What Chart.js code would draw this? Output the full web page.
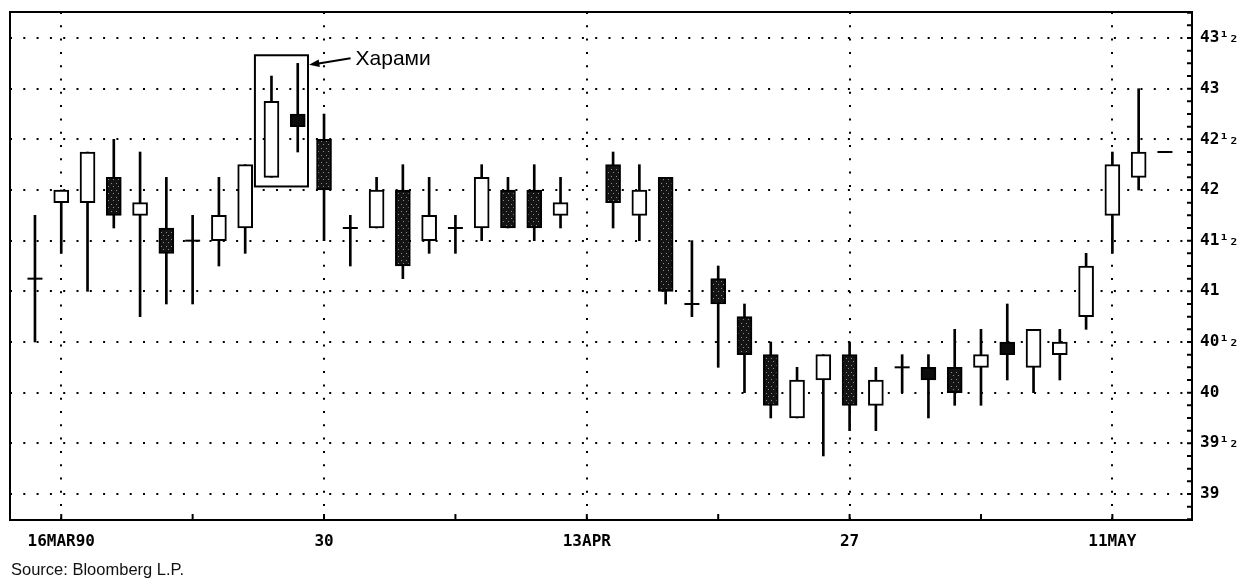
<!DOCTYPE html>
<html>
<head>
<meta charset="utf-8">
<script src="https://cdn.jsdelivr.net/npm/chart.js@4.4.1/dist/chart.umd.min.js"></script>
<style>
  html, body { margin: 0; padding: 0; background: #fff; }
  #wrap { position: relative; width: 1242px; height: 578px; }
  #source { position: absolute; left: 11px; top: 560px; font: 16.5px 'Liberation Sans', Arial, sans-serif; color: #111; }
</style>
</head>
<body>
<div id="wrap">
  <canvas id="chart" width="1242" height="578"></canvas>
  <div id="source">Source: Bloomberg L.P.</div>
</div>
<script>
// trading days 15 Mar - 15 May 1990 (13 Apr = Good Friday, no session)
const days = [
    '15MAR', '16MAR', '19MAR', '20MAR', '21MAR', '22MAR', '23MAR', '26MAR', '27MAR', '28MAR', '29MAR', '30MAR',
    '02APR', '03APR', '04APR', '05APR', '06APR', '09APR', '10APR', '11APR', '12APR', '13APR',
    '16APR', '17APR', '18APR', '19APR', '20APR', '23APR', '24APR', '25APR', '26APR', '27APR',
    '30APR', '01MAY', '02MAY', '03MAY', '04MAY', '07MAY', '08MAY', '09MAY', '10MAY', '11MAY', '14MAY', '15MAY'
];
const opens = [
    41.125, 41.875, 41.875, 42.125, 41.75, 41.625, 41.5, 41.5, 41.625, 42.125, 42.75, 42.5,
    41.625, 41.625, 42, 41.5, 41.625, 41.625, 42, 42, 41.75, null,
    42.25, 41.75, 42.125, 40.875, 41.125, 40.75, 40.375, 39.75, 40.125, 40.375,
    39.875, 40.25, 40.25, 40.25, 40.25, 40.5, 40.25, 40.375, 40.75, 41.75, 42.125, 42.375
];
const highs = [
    41.75, 42, 42.375, 42.5, 42.375, 42.125, 41.75, 42.125, 42.25, 43.125, 43.25, 42.75,
    41.75, 42.125, 42.25, 42.125, 41.75, 42.25, 42.125, 42.25, 42.125, null,
    42.375, 42.25, 42.125, 41.5, 41.25, 40.875, 40.5, 40.25, 40.375, 40.5,
    40.25, 40.375, 40.375, 40.625, 40.625, 40.875, 40.625, 40.625, 41.375, 42.375, 43, 42.375
];
const lows = [
    40.5, 41.375, 41, 41.625, 40.75, 40.875, 40.875, 41.25, 41.375, 42.125, 42.375, 41.5,
    41.25, 41.625, 41.125, 41.375, 41.375, 41.5, 41.625, 41.5, 41.625, null,
    41.625, 41.5, 40.875, 40.75, 40.25, 40, 39.75, 39.75, 39.375, 39.625,
    39.625, 40, 39.75, 39.875, 39.875, 40.125, 40, 40.125, 40.625, 41.375, 42, 42.375
];
const closes = [
    41.125, 42, 42.375, 41.75, 41.875, 41.375, 41.5, 41.75, 42.25, 42.875, 42.625, 42,
    41.625, 42, 41.25, 41.75, 41.625, 42.125, 41.625, 41.625, 41.875, null,
    41.875, 42, 41, 40.875, 40.875, 40.375, 39.875, 40.125, 40.375, 39.875,
    40.125, 40.25, 40.125, 40, 40.375, 40.375, 40.625, 40.5, 41.25, 42.25, 42.375, 42.375
];

const xTickIdx = [1, 11, 21, 31, 41];
const xTickText = ['16MAR90', '30', '13APR', '27', '11MAY'];
const weekTicks = [1, 6, 11, 16, 21, 26, 31, 36, 41];
const yTicks = [39, 39.5, 40, 40.5, 41, 41.5, 42, 42.5, 43, 43.5];
const yTickText = ['39', '39¹₂', '40', '40¹₂', '41', '41¹₂', '42', '42¹₂', '43', '43¹₂'];

const haramiText = 'Харами';
const haramiBox = { x0: 8.37, x1: 10.39, y0: 42.035, y1: 43.33 };
const haramiLabelAt = { x: 12.2, y: 43.29 };
const haramiArrowTip = { x: 10.43, y: 43.236 };

// build candle pieces
const bodies = [], wicks = [], crosses = [];
days.forEach((d, i) => {
    if (opens[i] === null) return;
    wicks.push({ x: i, y: [lows[i], highs[i]] });
    if (opens[i] === closes[i]) {
        crosses.push({ x: i, y: opens[i] });
    } else {
        bodies.push({
            x: i,
            y: [Math.min(opens[i], closes[i]), Math.max(opens[i], closes[i])],
            up: closes[i] > opens[i]
        });
    }
});

const canvas = document.getElementById('chart');
const c2d = canvas.getContext('2d');

function stipple() {
    const c = document.createElement('canvas');
    c.width = 5; c.height = 7;
    const g = c.getContext('2d');
    g.fillStyle = '#141414'; g.fillRect(0, 0, 5, 7);
    g.fillStyle = '#8c8c8c'; g.fillRect(1, 1, 1, 1); g.fillRect(3, 4, 1, 1);
    return c2d.createPattern(c, 'repeat');
}
const darkFill = stipple();

const framePlugin = {
    id: 'frame',
    afterDraw(chart) {
        const { ctx, chartArea: a, scales: { x, y } } = chart;
        ctx.save();
        ctx.strokeStyle = '#000';
        ctx.lineWidth = 2;
        ctx.strokeRect(a.left, a.top, a.right - a.left, a.bottom - a.top);
        ctx.beginPath();
        for (let v = 38.75; v <= 43.75; v += 0.125) {
            const py = y.getPixelForValue(v);
            ctx.moveTo(a.right - 5, py); ctx.lineTo(a.right, py);
        }
        weekTicks.forEach(i => {
            const px = x.getPixelForValue(i);
            ctx.moveTo(px, a.bottom - 6); ctx.lineTo(px, a.bottom);
        });
        ctx.stroke();
        ctx.restore();
    }
};

const haramiPlugin = {
    id: 'harami',
    afterDatasetsDraw(chart) {
        const { ctx, scales: { x, y } } = chart;
        const l = x.getPixelForValue(haramiBox.x0), r = x.getPixelForValue(haramiBox.x1);
        const t = y.getPixelForValue(haramiBox.y1), b = y.getPixelForValue(haramiBox.y0);
        ctx.save();
        ctx.strokeStyle = '#000';
        ctx.fillStyle = '#000';
        ctx.lineWidth = 2;
        ctx.strokeRect(l, t, r - l, b - t);

        const tx = x.getPixelForValue(haramiLabelAt.x), ty = y.getPixelForValue(haramiLabelAt.y);
        const ax = x.getPixelForValue(haramiArrowTip.x), ay = y.getPixelForValue(haramiArrowTip.y);
        ctx.beginPath();
        ctx.moveTo(tx - 5, ty - 1);
        ctx.lineTo(ax + 8, ay - 1);
        ctx.stroke();
        const ang = Math.atan2(ay - (ty - 1), ax - (tx - 5));
        ctx.beginPath();
        ctx.moveTo(ax, ay);
        ctx.lineTo(ax - 11 * Math.cos(ang - 0.35), ay - 11 * Math.sin(ang - 0.35));
        ctx.lineTo(ax - 11 * Math.cos(ang + 0.35), ay - 11 * Math.sin(ang + 0.35));
        ctx.closePath();
        ctx.fill();

        ctx.font = '21px "Liberation Sans", Arial, sans-serif';
        ctx.textBaseline = 'middle';
        ctx.textAlign = 'left';
        ctx.fillText(haramiText, tx, ty);
        ctx.restore();
    }
};

const tickFont = { family: '"DejaVu Sans Mono", monospace', size: 16, weight: 'bold' };

new Chart(c2d, {
    type: 'bar',
    data: {
        datasets: [
            {
                label: 'body',
                data: bodies,
                grouped: false,
                barThickness: 15,
                borderWidth: 2,
                borderSkipped: false,
                borderColor: '#000',
                backgroundColor: ctx => {
                    const p = ctx.raw;
                    if (!p) return '#fff';
                    if (p.up) return '#fff';
                    return (p.y[1] - p.y[0]) <= 0.125 ? '#0c0c0c' : darkFill;
                }
            },
            {
                type: 'line',
                label: 'cross',
                data: crosses,
                showLine: false,
                pointStyle: 'line',
                pointRadius: 7.5,
                pointBorderWidth: 2,
                pointBorderColor: '#000',
                borderColor: '#000'
            },
            {
                label: 'wick',
                data: wicks,
                grouped: false,
                barThickness: 2,
                borderWidth: 0,
                backgroundColor: '#000'
            }
        ]
    },
    options: {
        responsive: false,
        animation: false,
        layout: { padding: { left: 10, top: 12, right: 0, bottom: 0 } },
        plugins: { legend: { display: false }, tooltip: { enabled: false } },
        scales: {
            x: {
                type: 'linear',
                min: -0.95,
                max: 44.03,
                offset: false,
                grid: { color: '#000', lineWidth: 2, drawTicks: false, offset: false },
                border: { display: false, dash: [2, 11.3] },
                afterBuildTicks: s => { s.ticks = xTickIdx.map(v => ({ value: v })); },
                afterFit: s => { s.height = 58; s.paddingLeft = 0; s.paddingRight = 0; },
                ticks: {
                    autoSkip: false, maxRotation: 0, padding: 12, color: '#000', font: tickFont,
                    callback: (v, i) => xTickText[i]
                }
            },
            y: {
                position: 'right',
                min: 38.743,
                max: 43.757,
                grid: { color: '#000', lineWidth: 2, drawTicks: false },
                border: { display: false, dash: [2, 11.3] },
                afterBuildTicks: s => { s.ticks = yTicks.map(v => ({ value: v })); },
                afterFit: s => { s.width = 50; s.paddingTop = 0; s.paddingBottom = 0; },
                ticks: {
                    padding: 8, color: '#000', font: tickFont,
                    callback: (v, i) => yTickText[i]
                }
            }
        }
    },
    plugins: [framePlugin, haramiPlugin]
});
</script>
</body>
</html>
